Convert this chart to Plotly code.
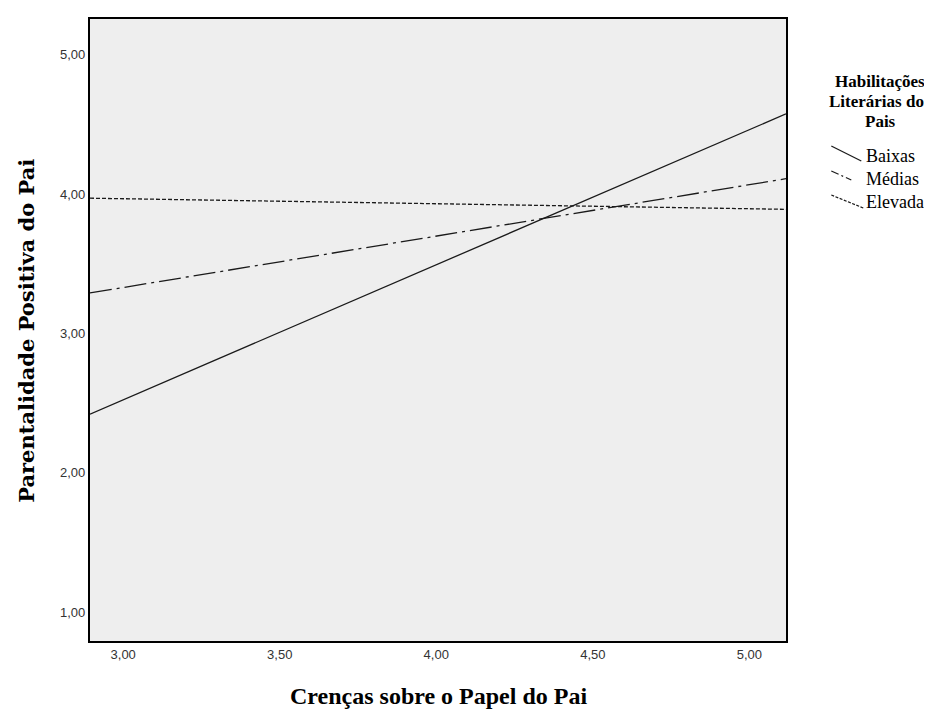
import plotly.graph_objects as go

# Data: fitted lines for each group (endpoints at axis limits)
x_range = [2.894, 5.117]
baixas_y = [2.42, 4.575]
medias_y = [3.29, 4.11]
elevadas_y = [3.97, 3.89]
series_names = ["Baixas", "Médias", "Elevadas"]
x_ticks = [3.0, 3.5, 4.0, 4.5, 5.0]
x_tick_labels = ["3,00", "3,50", "4,00", "4,50", "5,00"]
y_ticks = [1.0, 2.0, 3.0, 4.0, 5.0]
y_tick_labels = ["1,00", "2,00", "3,00", "4,00", "5,00"]
legend_title_lines = ["Habilitações", "Literárias dos", "Pais"]

W, H = 932, 709
L, R, T, B = 81.7, 777.7, 11, 633

def px(x):
    return (x - L) / (R - L)

def py(y):
    return (B - y) / (B - T)

dashes = ["solid", "22px,5px,3px,5px", "4px,2px"]
ys = [baixas_y, medias_y, elevadas_y]

fig = go.Figure()
for name, yv, d in zip(series_names, ys, dashes):
    fig.add_trace(go.Scatter(x=x_range, y=yv, mode="lines", name=name,
                             line=dict(color="#1a1a1a", width=1.3, dash=d),
                             showlegend=False))

axis_common = dict(showgrid=False, zeroline=False, showline=True, linecolor="black",
                   linewidth=2.2, mirror=True, ticks="",
                   tickfont=dict(family="Liberation Sans", size=13, color="#333"))

fig.update_layout(
    width=W, height=H,
    margin=dict(l=L, r=W - R, t=T, b=H - B, autoexpand=False),
    paper_bgcolor="white",
    plot_bgcolor="#EEEEEE",
    xaxis=dict(range=[2.894, 5.117], tickvals=x_ticks, ticktext=x_tick_labels, **axis_common),
    yaxis=dict(range=[0.792, 5.256], tickvals=y_ticks, ticktext=y_tick_labels, **axis_common),
)

# Axis titles
fig.add_annotation(xref="paper", yref="paper", x=px(430), y=py(688),
                   text="<b>Crenças sobre o Papel do Pai</b>", showarrow=False,
                   xanchor="center", yanchor="middle",
                   font=dict(family="Liberation Serif", size=24, color="black"))
fig.add_annotation(xref="paper", yref="paper", x=px(18), y=py(322.5),
                   text="<b>Parentalidade Positiva do Pai</b>", showarrow=False,
                   textangle=-90, xanchor="center", yanchor="middle",
                   font=dict(family="DejaVu Serif", size=21, color="black"))

# Custom legend
for line_text, ty in zip(legend_title_lines, [73, 93, 113]):
    fig.add_annotation(xref="paper", yref="paper", x=px(872), y=py(ty),
                       text="<b>" + line_text + "</b>",
                       showarrow=False, xanchor="center", yanchor="middle",
                       font=dict(family="Liberation Serif", size=17, color="black"))
legend_y = [148, 171, 194]
sym = [((823, 138), (853, 153)), ((823, 163), (843, 172)), ((823, 187), (855, 200))]
sym_dash = ["solid", "8px,3px,2px,3px", "3px,1.5px"]
for name, ly, (p0, p1), d in zip(series_names, legend_y, sym, sym_dash):
    fig.add_shape(type="line", xref="paper", yref="paper",
                  x0=px(p0[0]), y0=py(p0[1]), x1=px(p1[0]), y1=py(p1[1]),
                  line=dict(color="#1a1a1a", width=1.2, dash=d))
    fig.add_annotation(xref="paper", yref="paper", x=px(856), y=py(ly),
                       text=name, showarrow=False, xanchor="left", yanchor="middle",
                       font=dict(family="Liberation Serif", size=18, color="black"))

fig.write_html("out.html")
